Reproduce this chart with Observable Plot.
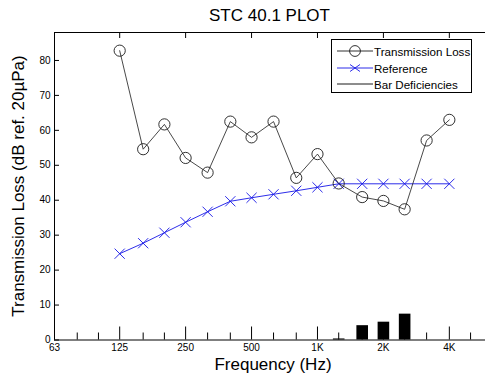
<!DOCTYPE html>
<html><head><meta charset="utf-8">
<script src="https://cdn.jsdelivr.net/npm/d3@7"></script>
<script src="https://cdn.jsdelivr.net/npm/@observablehq/plot@0.6"></script>
<style>
html,body{margin:0;padding:0;background:#fff;overflow:hidden;}
#wrap{position:relative;width:485px;height:378px;font-family:"Liberation Sans",Arial,Helvetica,sans-serif;color:#000;}
#wrap svg.plot{position:absolute;left:0;top:0;}
.lbl{position:absolute;white-space:nowrap;line-height:1;}
#title{left:54px;width:431px;top:7px;text-align:center;font-size:17px;}
#xlabel{left:54px;width:438px;top:356px;text-align:center;font-size:17px;}
#ylabel{left:18px;top:186px;font-size:17px;transform:translate(-50%,-50%) rotate(-90deg);}
#legend{position:absolute;left:331px;top:39px;width:139px;height:52px;border:1px solid #000;background:#fff;font-size:11.6px;}
#legend .row{position:absolute;left:0;height:16px;display:flex;align-items:center;}
#legend svg{display:block;margin-left:5px;}
#legend span{margin-left:1px;}
</style></head><body><div id="wrap"></div>
<script>
const bands = [125,160,200,250,315,400,500,630,800,1000,1250,1600,2000,2500,3150,4000];
const transmissionLoss = [82.8,54.6,61.7,52.1,47.9,62.5,58.0,62.5,46.4,53.2,44.8,40.9,39.8,37.4,57.1,63.0];
const reference = [24.7,27.7,30.7,33.7,36.7,39.7,40.7,41.7,42.7,43.7,44.7,44.7,44.7,44.7,44.7,44.7];
const deficiencyBands = [1250,1600,2000,2500];
const deficiencies = [0.3,4.1,5.1,7.4];
const majorTicks = [63,125,250,500,1000,2000,4000];
const majorLabels = ["63","125","250","500","1K","2K","4K"];
const minorTicks = [80,100,160,200,315,400,630,800,1250,1600,2500,3150,5000];
const yTicks = [0,10,20,30,40,50,60,70,80];
const xDomain = [62.99,5850];
const yDomain = [0,88];
const titleText = "STC 40.1 PLOT";
const xLabelText = "Frequency (Hz)";
const yLabelText = "Transmission Loss (dB ref. 20µPa)";
const seriesNames = ["Transmission Loss","Reference","Bar Deficiencies"];

const tl = bands.map((f,i)=>({f, v: transmissionLoss[i]}));
const ref = bands.map((f,i)=>({f, v: reference[i]}));
const def = deficiencyBands.map((f,i)=>({f, v: deficiencies[i]}));
const xLab = majorTicks.map((f,i)=>({f, t: majorLabels[i]}));

const plot = Plot.plot({
  width: 485, height: 378,
  marginTop: 32, marginBottom: 38.5, marginLeft: 54, marginRight: 0,
  style: {fontFamily: '"Liberation Sans", Arial, sans-serif', fontSize: "10px", color: "#000", background: "transparent", maxWidth: "none"},
  x: {type: "log", domain: xDomain},
  y: {domain: yDomain},
  marks: [
    Plot.ruleX(def, {x: "f", y1: 0, y2: "v", stroke: "#000", strokeWidth: 11.6}),
    Plot.ruleY([yDomain[0]], {stroke: "#000", strokeWidth: 1}),
    Plot.ruleY([yDomain[1]], {stroke: "#000", strokeWidth: 1}),
    Plot.ruleX([xDomain[0]], {stroke: "#000", strokeWidth: 1}),
    Plot.axisX({ticks: majorTicks, tickSize: -13, tickFormat: () => "", label: null}),
    Plot.axisX({ticks: minorTicks, tickSize: -7, tickFormat: () => "", label: null}),
    Plot.axisX({anchor: "top", ticks: majorTicks, tickSize: -5, tickFormat: () => "", label: null}),
    Plot.text(xLab, {x: "f", text: "t", frameAnchor: "bottom", lineAnchor: "top", dy: 3.5, fill: "#000"}),
    Plot.axisY({ticks: yTicks, tickSize: -5, tickFormat: () => "", label: null}),
    Plot.axisY({ticks: yTicks, tickSize: 0, tickPadding: 4, tickFormat: d => String(d), label: null}),
    Plot.line(ref, {x: "f", y: "v", stroke: "#1515e6", strokeWidth: 0.9}),
    Plot.dot(ref, {x: "f", y: "v", symbol: "times", r: 4.7, stroke: "#1515e6", strokeWidth: 0.9}),
    Plot.line(tl, {x: "f", y: "v", stroke: "#1a1a1a", strokeWidth: 0.8}),
    Plot.dot(tl, {x: "f", y: "v", symbol: "circle", r: 5.6, stroke: "#1a1a1a", strokeWidth: 0.9, fill: "none"})
  ]
});
const wrap = document.getElementById("wrap");
wrap.appendChild(plot);

function addLabel(id, text){const d=document.createElement("div");d.id=id;d.className="lbl";d.textContent=text;wrap.appendChild(d);}
addLabel("title", titleText);
addLabel("xlabel", xLabelText);
addLabel("ylabel", yLabelText);

const legend = document.createElement("div");
legend.id = "legend";
const sampleSvgs = [
  '<svg width="36" height="14"><line x1="0" y1="7" x2="36" y2="7" stroke="#1a1a1a" stroke-width="0.9"/><circle cx="18" cy="7" r="5.4" fill="none" stroke="#1a1a1a" stroke-width="0.9"/></svg>',
  '<svg width="36" height="14"><line x1="0" y1="7" x2="36" y2="7" stroke="#1515e6" stroke-width="0.9"/><path d="M13,3.5L23,10.5M13,10.5L23,3.5" stroke="#1515e6" stroke-width="0.9"/></svg>',
  '<svg width="36" height="14"><line x1="0" y1="7" x2="36" y2="7" stroke="#000" stroke-width="0.9"/></svg>'
];
const rowTops = [3, 20, 36];
seriesNames.forEach((name, i) => {
  const r = document.createElement("div");
  r.className = "row";
  r.style.top = rowTops[i] + "px";
  r.innerHTML = sampleSvgs[i];
  const s = document.createElement("span"); s.textContent = name; r.appendChild(s);
  legend.appendChild(r);
});
wrap.appendChild(legend);
</script></body></html>
